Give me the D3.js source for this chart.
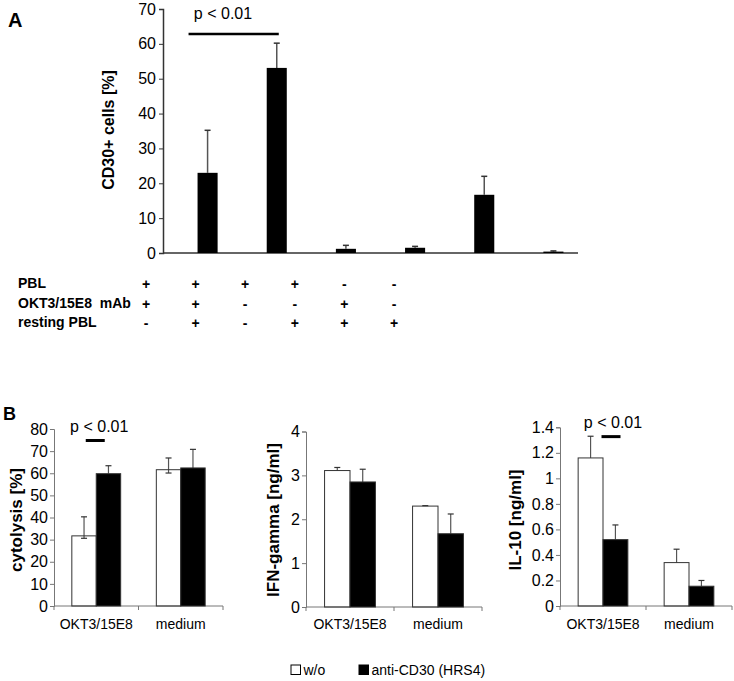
<!DOCTYPE html>
<html>
  <head>
    <meta charset="utf-8">
    <title>CD30 panels</title>
    <script src="https://d3js.org/d3.v7.min.js"></script>
    <style>
      body { margin: 0; background: #fff; }
      text { font-family: Arial, "Liberation Sans", sans-serif; fill: #000; }
      .tbl { font-family: "Liberation Sans Narrow", "Arial Narrow", Arial, sans-serif; font-weight: bold; font-size: 14px; }
      .tick text { font-size: 16px; }
    </style>
  </head>
  <body>
    <svg width="734" height="681"></svg>

    <script>
      // Panel A data
      var catsA = ["c1", "c2", "c3", "c4", "c5", "c6"];
      var valuesA = [23.0, 53.1, 1.2, 1.5, 16.7, 0.4];
      var errTopA = [35.2, 60.2, 2.2, 1.9, 22.0, 0.6];
      var ticksA = [0, 10, 20, 30, 40, 50, 60, 70];

      // table under panel A
      var rowLabels = ["PBL", "OKT3/15E8\u00a0\u00a0mAb", "resting PBL"];
      var rowPBL = ["+", "+", "+", "+", "-", "-"];
      var rowOKT = ["+", "+", "-", "-", "+", "-"];
      var rowResting = ["-", "+", "-", "+", "+", "+"];

      // Panel B data
      var groupsB = ["OKT3/15E8", "medium"];
      var seriesB = ["w/o", "anti-CD30 (HRS4)"];

      var cytoWo = [31.7, 61.6];
      var cytoAnti = [59.8, 62.4];
      var cytoWoErr = [40.3, 66.9];
      var cytoWoLow = [30.6, 60.1];
      var cytoAntiErr = [63.4, 70.8];
      var cytoTicks = [0, 10, 20, 30, 40, 50, 60, 70, 80];

      var ifnWo = [3.11, 2.30];
      var ifnAnti = [2.85, 1.67];
      var ifnWoErr = [3.18, 2.31];
      var ifnAntiErr = [3.14, 2.12];
      var ifnTicks = [0, 1, 2, 3, 4];

      var il10Wo = [1.16, 0.34];
      var il10Anti = [0.52, 0.155];
      var il10WoErr = [1.33, 0.445];
      var il10AntiErr = [0.635, 0.20];
      var il10Ticks = [0, 0.2, 0.4, 0.6, 0.8, 1, 1.2, 1.4];

      var svg = d3.select("svg");

      // ---------- Panel A ----------
      var yA = d3.scaleLinear().domain([0, 70]).range([253, 9]);
      var xA = d3.scaleBand().domain(catsA).range([173, 588]).paddingInner(0.71).paddingOuter(0.355);

      svg.append("text").attr("x", 8).attr("y", 27)
          .style("font-size", "20px").style("font-weight", "bold").text("A");

      var axA = svg.append("g").attr("transform", "translate(163,0)")
          .call(d3.axisLeft(yA).tickValues(ticksA).tickSize(4).tickPadding(3));
      axA.select(".domain").attr("stroke", "#333").attr("stroke-width", 1.5);
      axA.selectAll(".tick line").attr("stroke", "#333");

      svg.append("line").attr("x1", 163).attr("x2", 578)
          .attr("y1", yA(0)).attr("y2", yA(0))
          .attr("stroke", "#333").attr("stroke-width", 1.5);

      svg.append("text").attr("transform", "translate(114,130) rotate(-90)")
          .attr("text-anchor", "middle")
          .style("font-size", "16px").style("font-weight", "bold")
          .text("CD30+ cells [%]");

      var gA = svg.append("g");
      catsA.forEach(function(c, i) {
        var cx = xA(c) + xA.bandwidth() / 2;
        gA.append("line").attr("x1", cx).attr("x2", cx)
            .attr("y1", yA(valuesA[i])).attr("y2", yA(errTopA[i]))
            .attr("stroke", "#555").attr("stroke-width", 1.5);
        gA.append("line").attr("x1", cx - 3).attr("x2", cx + 3)
            .attr("y1", yA(errTopA[i])).attr("y2", yA(errTopA[i]))
            .attr("stroke", "#333").attr("stroke-width", 1.5);
        gA.append("rect").attr("x", xA(c)).attr("width", xA.bandwidth())
            .attr("y", yA(valuesA[i])).attr("height", yA(0) - yA(valuesA[i]))
            .attr("fill", "#000");
      });

      // significance bar A
      var pA1 = xA(catsA[0]) - 9, pA2 = xA(catsA[1]) + xA.bandwidth() - 8;
      svg.append("line").attr("x1", pA1).attr("x2", pA2)
          .attr("y1", yA(62.8)).attr("y2", yA(62.8))
          .attr("stroke", "#000").attr("stroke-width", 2.5);
      svg.append("text").attr("x", 223).attr("y", 19).attr("text-anchor", "middle")
          .style("font-size", "16px").text("p < 0.01");

      // table
      var xT = d3.scalePoint().domain(catsA).range([146, 394]);
      var rowsY = [288, 308, 327];
      var rows = [rowPBL, rowOKT, rowResting];
      rowLabels.forEach(function(lab, r) {
        svg.append("text").attr("class", "tbl").attr("x", 18).attr("y", rowsY[r]).text(lab);
        rows[r].forEach(function(s, i) {
          svg.append("text").attr("class", "tbl").attr("x", xT(catsA[i])).attr("y", rowsY[r] + 1)
              .attr("text-anchor", "middle").text(s);
        });
      });

      // ---------- Panel B ----------
      svg.append("text").attr("x", 3).attr("y", 420)
          .style("font-size", "18px").style("font-weight", "bold").text("B");

      function drawPanel(o) {
        var y = d3.scaleLinear().domain([0, o.max]).range([o.y0, o.y1]);
        var x = d3.scaleBand().domain(groupsB).range([o.x0, o.x1]);
        var xs = d3.scaleBand().domain(seriesB).range([0, x.bandwidth()])
            .paddingInner(0).paddingOuter(0.73);
        var g = svg.append("g");

        var ax = g.append("g").attr("transform", "translate(" + o.x0 + ",0)")
            .call(d3.axisLeft(y).tickValues(o.ticks).tickSize(4).tickPadding(2)
              .tickFormat(function(d) { return String(d); }));
        ax.select(".domain").attr("stroke", "#777");
        ax.selectAll(".tick line").attr("stroke", "#777");

        g.append("line").attr("x1", o.x0).attr("x2", o.x1)
            .attr("y1", y(0)).attr("y2", y(0)).attr("stroke", "#777");
        [o.x0, x(groupsB[1]), o.x1].forEach(function(tx) {
          g.append("line").attr("x1", tx).attr("x2", tx)
              .attr("y1", y(0)).attr("y2", y(0) + 4).attr("stroke", "#777");
        });

        groupsB.forEach(function(grp, i) {
          g.append("text").attr("x", x(grp) + x.bandwidth() / 2).attr("y", 629)
              .attr("text-anchor", "middle").style("font-size", "14px").text(grp);
        });

        var sets = [
          { vals: o.wo, err: o.woErr, low: o.woLow, fill: "#fff" },
          { vals: o.anti, err: o.antiErr, low: null, fill: "#000" }
        ];
        sets.forEach(function(s, si) {
          groupsB.forEach(function(grp, i) {
            var bx = x(grp) + xs(seriesB[si]);
            var bw = xs.bandwidth();
            var cx = bx + bw / 2;
            var lowV = s.low ? s.low[i] : s.vals[i];
            g.append("line").attr("x1", cx).attr("x2", cx)
                .attr("y1", y(lowV)).attr("y2", y(s.err[i]))
                .attr("stroke", "#555").attr("stroke-width", 1.2);
            g.append("line").attr("x1", cx - 3).attr("x2", cx + 3)
                .attr("y1", y(s.err[i])).attr("y2", y(s.err[i]))
                .attr("stroke", "#333").attr("stroke-width", 1.2);
            if (s.low) {
              g.append("line").attr("x1", cx - 3).attr("x2", cx + 3)
                  .attr("y1", y(lowV)).attr("y2", y(lowV))
                  .attr("stroke", "#333").attr("stroke-width", 1.2);
            }
            g.append("rect").attr("x", bx).attr("width", bw)
                .attr("y", y(s.vals[i])).attr("height", y(0) - y(s.vals[i]))
                .attr("fill", s.fill).attr("fill-opacity", si === 0 ? 0 : 1)
                .attr("stroke", "#333").attr("stroke-width", 1);
          });
        });

        g.append("text")
            .attr("transform", "translate(" + o.labelX + ",520) rotate(-90)")
            .attr("text-anchor", "middle")
            .style("font-size", "17px").style("font-weight", "bold")
            .text(o.label);

        if (o.p) {
          var c = x(groupsB[0]) + x.bandwidth() / 2 + o.p.dx;
          g.append("line").attr("x1", c - 9.5).attr("x2", c + 9.5)
              .attr("y1", y(o.p.v)).attr("y2", y(o.p.v))
              .attr("stroke", "#000").attr("stroke-width", 3);
          g.append("text").attr("x", c + o.p.tdx).attr("y", o.p.ty)
              .attr("text-anchor", "middle").style("font-size", "16px").text("p < 0.01");
        }
      }

      drawPanel({ x0: 54, x1: 223, y0: 606, y1: 429, max: 80, ticks: cytoTicks,
        wo: cytoWo, anti: cytoAnti, woErr: cytoWoErr, woLow: cytoWoLow, antiErr: cytoAntiErr,
        label: "cytolysis [%]", labelX: 22, p: { v: 74.8, dx: -1, tdx: 4, ty: 432 } });

      drawPanel({ x0: 306, x1: 482, y0: 607, y1: 431.5, max: 4, ticks: ifnTicks,
        wo: ifnWo, anti: ifnAnti, woErr: ifnWoErr, woLow: null, antiErr: ifnAntiErr,
        label: "IFN-gamma [ng/ml]", labelX: 279, p: null });

      drawPanel({ x0: 560, x1: 732, y0: 606, y1: 427.3, max: 1.4, ticks: il10Ticks,
        wo: il10Wo, anti: il10Anti, woErr: il10WoErr, woLow: null, antiErr: il10AntiErr,
        label: "IL-10 [ng/ml]", labelX: 521, p: { v: 1.327, dx: 8, tdx: 2, ty: 428 } });

      // legend
      var leg = svg.append("g");
      var legX = [291, 359];
      seriesB.forEach(function(s, i) {
        leg.append("rect").attr("x", legX[i]).attr("y", 665).attr("width", 9.5).attr("height", 9.5)
            .attr("fill", i === 0 ? "#fff" : "#000").attr("stroke", "#000").attr("stroke-width", 1);
        leg.append("text").attr("x", legX[i] + 12.5).attr("y", 675)
            .style("font-size", "14px").text(s);
      });
    </script>
  </body>
</html>
